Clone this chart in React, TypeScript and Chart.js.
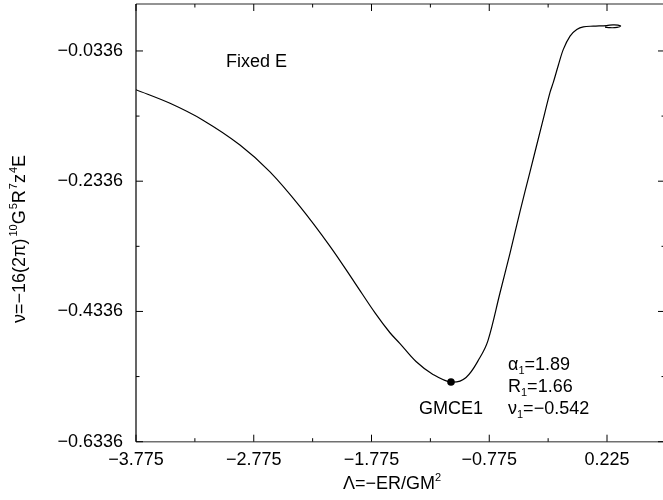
import React, { useEffect, useRef } from 'react';
import { Chart, registerables } from 'chart.js';

Chart.register(...registerables);

// Curve: nu versus Lambda (fixed E)
const curveLambda = [
  -3.775, -3.486, -3.206, -2.892, -2.637, -2.382, -2.127, -1.915, -1.745, -1.618,
  -1.533, -1.397, -1.253, -1.1, -0.972, -0.854, -0.786, -0.684, -0.599, -0.514,
  -0.429, -0.323, -0.259, -0.231, -0.189, -0.146, -0.089, -0.032, 0.024, 0.109,
  0.222, 0.276, 0.318, 0.34, 0.31, 0.251, 0.208,
];
const curveNu = [
  -0.0931, -0.114, -0.1399, -0.178, -0.2192, -0.2726, -0.3336, -0.39, -0.4358, -0.4663,
  -0.483, -0.5105, -0.5303, -0.542, -0.5349, -0.5044, -0.4785, -0.4053, -0.3443, -0.2802,
  -0.2192, -0.143, -0.0972, -0.0819, -0.056, -0.0312, -0.0107, -0.0007, 0.0035, 0.0045,
  0.0054, 0.0065, 0.0061, 0.0045, 0.0025, 0.0021, 0.003,
];

// Marked point GMCE1
const markLambda = [-1.1];
const markNu = [-0.542];

const xTickValues = [-3.775, -3.275, -2.775, -2.275, -1.775, -1.275, -0.775, -0.275, 0.225];
const xTickLabels = ['−3.775', '', '−2.775', '', '−1.775', '', '−0.775', '', '0.225'];
const yTickValues = [-0.6336, -0.5336, -0.4336, -0.3336, -0.2336, -0.1336, -0.0336];
const yTickLabels = ['−0.6336', '', '−0.4336', '', '−0.2336', '', '−0.0336'];

const X_MIN = -3.775;
const X_MAX = 0.7175;
const Y_MIN = -0.6336;
const Y_MAX = 0.0385;

const FONT = "'Liberation Sans', Arial, Helvetica, sans-serif";

type Seg = { t: string; s: number; dy?: number; gap?: number };

function drawRich(ctx: CanvasRenderingContext2D, segs: Seg[], x: number, y: number, align: 'left' | 'center') {
  let total = 0;
  for (const sg of segs) {
    ctx.font = `${sg.s}px ${FONT}`;
    total += ctx.measureText(sg.t).width + (sg.gap || 0);
  }
  let cx = align === 'center' ? x - total / 2 : x;
  ctx.textAlign = 'left';
  ctx.textBaseline = 'alphabetic';
  for (const sg of segs) {
    ctx.font = `${sg.s}px ${FONT}`;
    cx += (sg.gap || 0);
    ctx.fillText(sg.t, cx, y + (sg.dy || 0));
    cx += ctx.measureText(sg.t).width;
  }
}

const framePlugin = {
  id: 'framePlugin',
  afterDraw(chart: any) {
    const ctx: CanvasRenderingContext2D = chart.ctx;
    const { left, right, top, bottom } = chart.chartArea;
    const xs = chart.scales.x;
    const ys = chart.scales.y;
    ctx.save();
    // frame
    ctx.lineWidth = 1.5;
    ctx.strokeStyle = '#707070';
    ctx.beginPath();
    ctx.moveTo(left, top);
    ctx.lineTo(right, top);
    ctx.moveTo(left, bottom);
    ctx.lineTo(right, bottom);
    ctx.stroke();
    ctx.strokeStyle = '#000';
    ctx.lineWidth = 1.2;
    ctx.beginPath();
    ctx.moveTo(left, top);
    ctx.lineTo(left, bottom);
    ctx.moveTo(right, top);
    ctx.lineTo(right, bottom);
    ctx.stroke();
    // inward ticks
    ctx.lineWidth = 1;
    ctx.strokeStyle = '#000';
    ctx.beginPath();
    xTickValues.forEach((v, i) => {
      const px = xs.getPixelForValue(v);
      const len = xTickLabels[i] ? 7 : 3.5;
      ctx.moveTo(px, bottom);
      ctx.lineTo(px, bottom - len);
      ctx.moveTo(px, top);
      ctx.lineTo(px, top + len);
    });
    yTickValues.forEach((v, i) => {
      const py = ys.getPixelForValue(v);
      const len = yTickLabels[i] ? 7 : 3.5;
      ctx.moveTo(left, py);
      ctx.lineTo(left + len, py);
      ctx.moveTo(right, py);
      ctx.lineTo(right - len, py);
    });
    ctx.stroke();

    ctx.fillStyle = '#000';
    // annotations
    drawRich(ctx, [{ t: 'Fixed E', s: 18 }], 226, 67, 'left');
    const mx = xs.getPixelForValue(markLambda[0]);
    drawRich(ctx, [{ t: 'GMCE1', s: 18 }], mx, 413.5, 'center');
    drawRich(ctx, [{ t: 'α', s: 18 }, { t: '1', s: 11, dy: 4 }, { t: '=1.89', s: 18 }], 508, 370, 'left');
    drawRich(ctx, [{ t: 'R', s: 18 }, { t: '1', s: 11, dy: 4 }, { t: '=1.66', s: 18 }], 508, 392, 'left');
    drawRich(ctx, [{ t: 'ν', s: 18 }, { t: '1', s: 11, dy: 4 }, { t: '=−0.542', s: 18 }], 508, 413.5, 'left');

    // x axis title
    drawRich(ctx, [{ t: 'Λ=−ER/GM', s: 18 }, { t: '2', s: 11, dy: -8 }], 392, 489, 'center');

    // y axis title
    ctx.save();
    ctx.translate(25, 239);
    ctx.rotate(-Math.PI / 2);
    drawRich(ctx, [
      { t: 'ν=−16(2π)', s: 18 },
      { t: '10', s: 11, dy: -8, gap: 2 },
      { t: 'G', s: 18 },
      { t: '5', s: 11, dy: -8, gap: 1 },
      { t: 'R', s: 18 },
      { t: '7', s: 11, dy: -8, gap: 1 },
      { t: 'z', s: 18 },
      { t: '4', s: 11, dy: -8, gap: 1 },
      { t: 'E', s: 18 },
    ], 0, 0, 'center');
    ctx.restore();
    ctx.restore();
  },
};

export default function App() {
  const canvasRef = useRef<HTMLCanvasElement | null>(null);

  useEffect(() => {
    if (!canvasRef.current) return;
    const curve = curveLambda.map((x, i) => ({ x, y: curveNu[i] }));
    const mark = markLambda.map((x, i) => ({ x, y: markNu[i] }));
    const chart = new Chart(canvasRef.current, {
      type: 'scatter',
      data: {
        datasets: [
          {
            data: curve,
            showLine: true,
            borderColor: '#000',
            borderWidth: 1.2,
            pointRadius: 0,
            tension: 0.35,
            fill: false,
          } as any,
          {
            data: mark,
            pointRadius: 3.8,
            pointBackgroundColor: '#000',
            pointBorderColor: '#000',
            pointBorderWidth: 0,
          } as any,
        ],
      },
      options: {
        animation: false,
        responsive: true,
        maintainAspectRatio: false,
        devicePixelRatio: 1,
        layout: { padding: { left: 0, top: 1, right: 35, bottom: 0 } },
        plugins: { legend: { display: false }, tooltip: { enabled: false }, title: { display: false } },
        scales: {
          x: {
            type: 'linear',
            min: X_MIN,
            max: X_MAX,
            grid: { display: false, drawTicks: false },
            border: { display: false },
            afterBuildTicks: (scale: any) => {
              scale.ticks = xTickValues.map((v) => ({ value: v }));
            },
            afterFit: (scale: any) => {
              scale.height = 58.3;
              scale.paddingLeft = 0;
              scale.paddingRight = 0;
            },
            ticks: {
              autoSkip: false,
              maxRotation: 0,
              padding: 8,
              color: '#000',
              font: { family: FONT, size: 18 },
              callback: (_v: any, i: number) => xTickLabels[i],
            },
          },
          y: {
            type: 'linear',
            min: Y_MIN,
            max: Y_MAX,
            grid: { display: false, drawTicks: false },
            border: { display: false },
            afterBuildTicks: (scale: any) => {
              scale.ticks = yTickValues.map((v) => ({ value: v }));
            },
            afterFit: (scale: any) => {
              scale.width = 136;
              scale.paddingTop = 0;
              scale.paddingBottom = 0;
            },
            ticks: {
              autoSkip: false,
              padding: 13,
              color: '#000',
              font: { family: FONT, size: 18 },
              callback: (_v: any, i: number) => yTickLabels[i],
            },
          },
        },
      } as any,
      plugins: [framePlugin],
    });
    return () => chart.destroy();
  }, []);

  return (
    <div style={{ position: 'fixed', left: 0, top: 0, width: 663, height: 500, overflow: 'hidden', background: '#fff' }}>
      <div style={{ position: 'relative', width: 700, height: 500 }}>
        <canvas ref={canvasRef} />
      </div>
    </div>
  );
}
